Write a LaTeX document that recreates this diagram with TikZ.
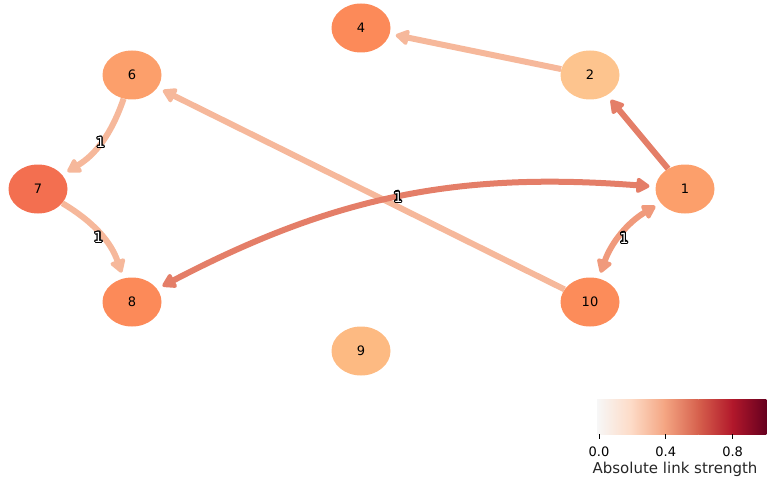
\documentclass[tikz,border=0pt]{standalone}
\usepackage{fontspec}
\setmainfont{DejaVu Sans}
\usepackage[copies]{contour}
\usetikzlibrary{arrows.meta}
\usetikzlibrary{shapes.geometric}
\contourlength{1.1pt}
%node colours
\definecolor{ndOne}{RGB}{252,159,107}
\definecolor{ndTwo}{RGB}{253,196,142}
\definecolor{ndFour}{RGB}{252,138,89}
\definecolor{ndSix}{RGB}{252,159,107}
\definecolor{ndSeven}{RGB}{243,111,80}
\definecolor{ndEight}{RGB}{252,138,89}
\definecolor{ndNine}{RGB}{253,186,130}
\definecolor{ndTen}{RGB}{252,140,90}
%link colours
\definecolor{lkLight}{RGB}{246,184,155}
\definecolor{lkMid}{RGB}{228,126,104}
\definecolor{lkSide}{RGB}{240,154,124}
%colour bar stops
\definecolor{cbA}{RGB}{247,247,247}
\definecolor{cbB}{RGB}{253,219,199}
\definecolor{cbC}{RGB}{244,165,130}
\definecolor{cbD}{RGB}{214,96,77}
\definecolor{cbE}{RGB}{178,24,43}
\definecolor{cbF}{RGB}{103,0,31}

\begin{document}
\begin{tikzpicture}[x=1pt,y=-1pt,
  vert/.style={ellipse, minimum width=59pt, minimum height=49pt, inner sep=0pt, font=\fontsize{13}{13}\selectfont},
  lnk/.style={line width=6pt, -{Triangle[length=15pt,width=17pt,round]}, shorten >=6pt},
  lnkb/.style={line width=6pt, {Triangle[length=15pt,width=17pt,round]}-{Triangle[length=15pt,width=17pt,round]}, shorten >=6pt, shorten <=6pt},
  lbl/.style={inner sep=0pt, text=white, font=\fontsize{14}{14}\selectfont},
  tick/.style={anchor=base, font=\fontsize{13}{13}\selectfont}]
  \def\cbx{597}
  \def\cby{399}
  \def\cbw{169}
  \def\cbh{35}

  \useasboundingbox (0,0) rectangle (776,484);

  %Nodes
  \node[vert, fill=ndFour] (n4) at (361,28) {4};
  \node[vert, fill=ndTwo] (n2) at (590,75) {2};
  \node[vert, fill=ndSix] (n6) at (132,75) {6};
  \node[vert, fill=ndSeven] (n7) at (38,189) {7};
  \node[vert, fill=ndOne] (n1) at (685,189) {1};
  \node[vert, fill=ndEight] (n8) at (132,302) {8};
  \node[vert, fill=ndTen] (n10) at (590,302) {10};
  \node[vert, fill=ndNine] (n9) at (361,351) {9};

  %Straight links
  \draw[lnk, lkLight] (n2) -- (n4);
  \draw[lnk, lkMid] (n1) -- (n2);
  \draw[lnk, lkLight] (n10) -- (n6);

  %Curved links
  \draw[lnk, lkLight] (n6) to[bend left=20] node[lbl] (l67) {\contour{black}{1}} (n7);
  \draw[lnk, lkLight] (n7) to[bend left=20] node[lbl, xshift=-2pt, yshift=-3pt] (l78) {\contour{black}{1}} (n8);
  \draw[lnkb, lkMid] (n8) to[bend left=16] node[lbl] (l81) {\contour{black}{1}} (n1);
  \draw[lnkb, lkSide] (n10) to[bend left=20] node[lbl, xshift=2pt, yshift=-4pt] (l101) {\contour{black}{1}} (n1);

  %Colour bar
  \foreach \i/\ca/\cb in {0/cbA/cbB, 1/cbB/cbC, 2/cbC/cbD, 3/cbD/cbE, 4/cbE/cbF}
  {
    \shade[left color=\ca, right color=\cb] ({\cbx+\i*\cbw/5},\cby) rectangle ({\cbx+(\i+1)*\cbw/5+0.3},\cby+\cbh);
  }
  \foreach \v/\lab in {0/0.0, 0.4/0.4, 0.8/0.8}
  {
    \draw[line width=0.8pt] ({\cbx+2+\v*(\cbw-2)},\cby+\cbh) -- ++(0,5) coordinate (tk\lab);
    \node[tick] (tl\lab) at ({\cbx+2+\v*(\cbw-2)},456) {\lab};
  }
  \node[anchor=base, text=black!85, font=\fontsize{15}{15}\selectfont] (cblab) at (675,473) {Absolute link strength};
\end{tikzpicture}
\end{document}
